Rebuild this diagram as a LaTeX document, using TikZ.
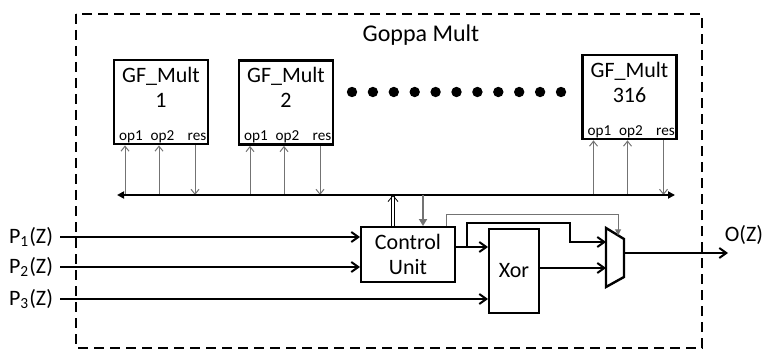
\documentclass[tikz,border=0pt]{standalone}
\usepackage{fontspec}
\setmainfont{Carlito}
\usepackage{tikz}
\usetikzlibrary{
	arrows.meta,
	positioning,
	calc
}

\begin{document}
\begin{tikzpicture}[x=0.5pt, y=-0.5pt,
	blk/.style={draw, line width=1pt, inner sep=0pt, align=center, font=\fontsize{11}{12.5}\selectfont},
	gfbox/.style={draw, line width=1.4pt, minimum width=47pt, minimum height=42pt},
	gftxt/.style={inner sep=0pt, align=center, font=\fontsize{11}{12.5}\selectfont},
	porttxt/.style={inner sep=0pt, font=\fontsize{7.6}{8}\selectfont},
	lbl/.style={font=\fontsize{11}{12.5}\selectfont},
	sigarr/.style={line width=1pt, -{Straight Barb[length=3.5pt,width=5pt]}},
	bus/.style={line width=1pt, {Triangle[length=3.5pt,width=3.5pt]}-{Triangle[length=3.5pt,width=3.5pt]}},
	portarr/.style={line width=0.5pt, black!55, -{Straight Barb[length=2.5pt,width=4pt]}},
	selarr/.style={line width=0.5pt, black!55, -{Triangle[length=3pt,width=3pt]}},
	dnarr/.style={line width=1pt, black!55, -{Triangle[length=3.5pt,width=4pt]}},
	dblarr/.style={double, double distance=1.1pt, line width=0.4pt, -{Straight Barb[length=3pt,width=5pt]}}
	]
	
	\useasboundingbox (0,0) rectangle (764,352);
	
	% outer block
	\draw[line width=1.4pt, dash pattern=on 5pt off 3pt] (76,14) rectangle (702,348);
	\node[lbl, font=\fontsize{12}{14}\selectfont] (title) at (421,35) {Goppa Mult};
	
	% multipliers
	\foreach \i/\num/\x/\y in {1/1/161/102, 2/2/286/102.5, 3/316/629.5/97}{
		\node[gfbox] (gf\i) at (\x,\y) {};
		\node[gftxt, below=4pt of gf\i.north] (gf\i-name) {GF\_Mult\\\num};
		\foreach \p/\dx/\tx in {op1/-36/-30, op2/-2/1.5, res/34/36}{
			\coordinate (gf\i-\p) at ($(gf\i.south)+(\dx,0)$);
			\node[porttxt, anchor=base] (gf\i-\p-txt) at ($(gf\i.south)+(\tx,-5)$) {\p};
		}
	}
	
	\foreach \k in {0,...,10}
		\fill (352+20.9*\k,92) circle[radius=2.6pt];
	
	% bus
	\coordinate (busL) at (117,195);
	\coordinate (busR) at (675,195);
	
	\foreach \i in {1,2,3}{
		\draw[portarr] (gf\i-op1 |- busL) -- (gf\i-op1);
		\draw[portarr] (gf\i-op2 |- busL) -- (gf\i-op2);
		\draw[portarr] (gf\i-res) -- (gf\i-res |- busL);
	}
	\draw[bus] (busL) -- (busR);
	
	% control, xor, mux
	\node[blk, minimum width=47pt, minimum height=27.5pt] (cu) at (408,254.5) {Control\\Unit};
	\node[blk, minimum width=25pt, minimum height=42pt] (xor) at (514,271) {Xor};
	
	\coordinate (mux-tl) at (606,228);
	\coordinate (mux-tr) at (624,239);
	\coordinate (mux-br) at (624,277);
	\coordinate (mux-bl) at (606,287);
	\draw[line width=1.2pt] (mux-tl) -- (mux-tr) -- (mux-br) -- (mux-bl) -- cycle;
	\coordinate (mux-a) at (606,242);
	\coordinate (mux-b) at (606,268);
	\coordinate (mux-o) at (624,253);
	\coordinate (mux-s) at ($(mux-tl)!0.67!(mux-tr)$);
	
	% inputs
	\node[lbl, anchor=east] (p1) at (60,237) {P\textsubscript{1}(Z)};
	\node[lbl, anchor=east] (p2) at (60,267) {P\textsubscript{2}(Z)};
	\node[lbl, anchor=east] (p3) at (60,299) {P\textsubscript{3}(Z)};
	\draw[sigarr] (p1.east) -- (p1.east -| cu.west);
	\draw[sigarr] (p2.east) -- (p2.east -| cu.west);
	\draw[sigarr] (p3.east) -- (p3.east -| xor.west);
	
	% control to bus
	\coordinate (cu-up) at ($(cu.north)+(-15,0)$);
	\coordinate (cu-dn) at ($(cu.north)+(15,0)$);
	\draw[dblarr] (cu-up) -- (cu-up |- busL);
	\draw[dnarr] (cu-dn |- busL) -- (cu-dn);
	
	% datapath
	\coordinate (cu-out) at ($(cu.east)+(0,-7.5)$);
	\coordinate (split) at ($(cu-out)+(11,0)$);
	\coordinate (bend) at (570,223);
	\draw[sigarr] (cu-out) -- (cu-out -| xor.west);
	\draw[sigarr] (split) |- (bend) |- (mux-a);
	\draw[sigarr] (xor.east |- mux-b) -- (mux-b);
	
	\coordinate (cu-sel) at ($(cu.north east)+(-10,0)$);
	\draw[selarr] (cu-sel) |- ($(mux-s)+(0,-21)$) -- (mux-s);
	
	% output
	\coordinate (out) at (728,253);
	\draw[sigarr] (mux-o) -- (out);
	\node[lbl] (oz) at (744,235) {O(Z)};
	
\end{tikzpicture}
\end{document}
